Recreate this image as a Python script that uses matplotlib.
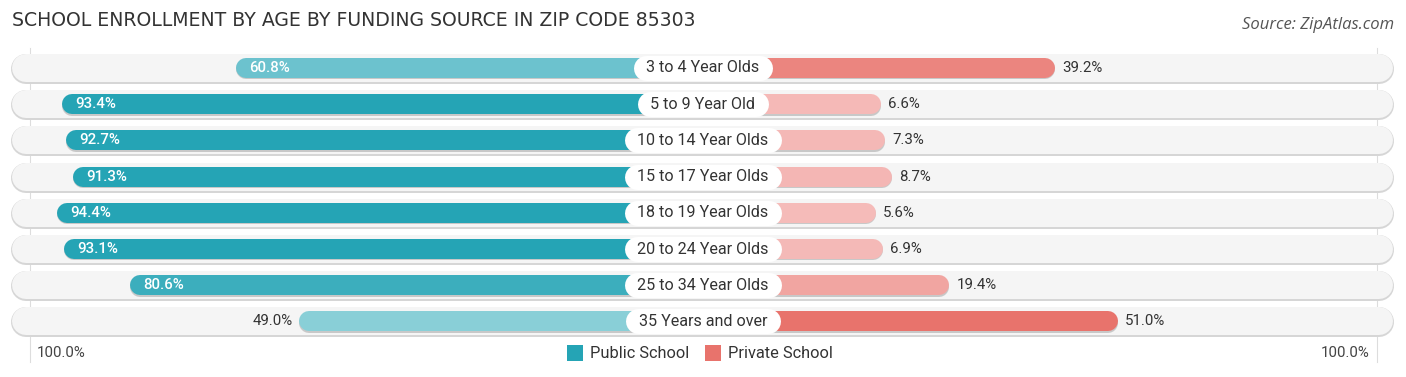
import numpy as np
import matplotlib.pyplot as plt
from matplotlib.colors import to_rgb

# data
age_groups = ["3 to 4 Year Olds", "5 to 9 Year Old", "10 to 14 Year Olds", "15 to 17 Year Olds",
              "18 to 19 Year Olds", "20 to 24 Year Olds", "25 to 34 Year Olds", "35 Years and over"]
public_pct = [60.8, 93.4, 92.7, 91.3, 94.4, 93.1, 80.6, 49.0]
private_pct = [39.2, 6.6, 7.3, 8.7, 5.6, 6.9, 19.4, 51.0]

W, H = 1406, 377
CX = 703.0      # centre in px
K = 5.33        # px per percent
OFF = 143.0     # bars start this far out from centre (px)
ROW0, ROWSTEP = 68.0, 36.2


def px2x(px):
    return (px - CX) / K


def mix(c1, c2, t):
    a, b = np.array(to_rgb(c1)), np.array(to_rgb(c2))
    return tuple(a + (b - a) * t)


fig = plt.figure(figsize=(W / 100, H / 100), dpi=100)
ax = fig.add_axes([0, 0, 1, 1])
ax.set_xlim(px2x(0), px2x(W))
ax.set_ylim((H - ROW0) / ROWSTEP, -ROW0 / ROWSTEP)
ax.axis("off")
renderer = fig.canvas.get_renderer()

pt = 72 / 100  # px -> points

# faint vertical guide lines
for gx in (30, 1377):
    ax.plot([px2x(gx)] * 2, [-0.55, 8.12], color="#dddddd", lw=0.8, zorder=0)

bar_h = 20
for i, (lab, pv, rv) in enumerate(zip(age_groups, public_pct, private_pct)):
    # background pill
    ax.plot([px2x(12 + 14), px2x(1393 - 14)], [i + 0.03, i + 0.03], color="#d6d6d6",
            lw=30 * pt, solid_capstyle="round", zorder=1)
    ax.plot([px2x(12 + 14), px2x(1393 - 14)], [i, i], color="#f5f5f5",
            lw=28 * pt, solid_capstyle="round", zorder=1)

    # public (left)
    lx = -(OFF + K * pv)  # px offset from centre
    tcol = mix("#9fd8df", "#25a4b5", min(1, max(0, (pv - 40) / 50)))
    ax.plot([px2x(CX + lx + bar_h / 2), 0], [i + 0.04, i + 0.04], color="#c8c8c8",
            lw=bar_h * pt, solid_capstyle="round", zorder=2)
    ax.plot([px2x(CX + lx + bar_h / 2), 0], [i, i], color=tcol, lw=bar_h * pt,
            solid_capstyle="round", zorder=2)
    if pv > 55:
        ax.text(px2x(CX + lx + 13), i, f"{pv:.1f}%", color="white", fontsize=10.8,
                fontweight="medium", va="center", ha="left", family="Roboto", zorder=4)
    else:
        ax.text(px2x(CX + lx - 6), i, f"{pv:.1f}%", color="#333333", fontsize=10.8,
                va="center", ha="right", family="Roboto", zorder=4)

    # private (right)
    rx = OFF + K * rv
    rcol = mix("#f5bcba", "#e8736c", min(1, max(0, (rv - 5) / 45)))
    ax.plot([0, px2x(CX + rx - bar_h / 2)], [i + 0.04, i + 0.04], color="#c8c8c8",
            lw=bar_h * pt, solid_capstyle="round", zorder=2)
    ax.plot([0, px2x(CX + rx - bar_h / 2)], [i, i], color=rcol, lw=bar_h * pt,
            solid_capstyle="round", zorder=2)
    ax.text(px2x(CX + rx + 7), i, f"{rv:.1f}%", color="#333333", fontsize=10.8,
            va="center", ha="left", family="Roboto", zorder=4)

    # centre label with white rounded box
    t = ax.text(0, i, lab, color="#333333", fontsize=11.6, va="center", ha="center",
                family="Roboto", zorder=6)
    tw = t.get_window_extent(renderer).width
    half = tw / 2 + 13 - 12.5
    ax.plot([px2x(CX - half), px2x(CX + half)], [i, i], color="white", lw=25 * pt,
            solid_capstyle="round", zorder=5)

# title and source
fig.text(12 / W, 1 - 21 / H, "SCHOOL ENROLLMENT BY AGE BY FUNDING SOURCE IN ZIP CODE 85303",
         fontsize=13.6, color="#333333", va="center", ha="left", family="DejaVu Sans")
fig.text(1394 / W, 1 - 25 / H, "Source: ZipAtlas.com", fontsize=12, color="#555555",
         va="center", ha="right", style="italic", family="Open Sans")

# bottom axis labels
ly = 353
fig.text(37 / W, 1 - ly / H, "100.0%", fontsize=10.8, color="#444444", va="center",
         ha="left", family="Roboto")
fig.text(1370 / W, 1 - ly / H, "100.0%", fontsize=10.8, color="#444444", va="center",
         ha="right", family="Roboto")

# legend
for sx, col, name in ((567, "#25a4b5", "Public School"), (705, "#e8736c", "Private School")):
    fig.patches.append(plt.Rectangle((sx / W, 1 - (ly + 8) / H), 16 / W, 16 / H,
                                     transform=fig.transFigure, fc=col, ec="none"))
    fig.text((sx + 23) / W, 1 - ly / H, name, fontsize=11.8, color="#333333",
             va="center", ha="left", family="Roboto")

fig.savefig("out.png", dpi=100, facecolor="white")
